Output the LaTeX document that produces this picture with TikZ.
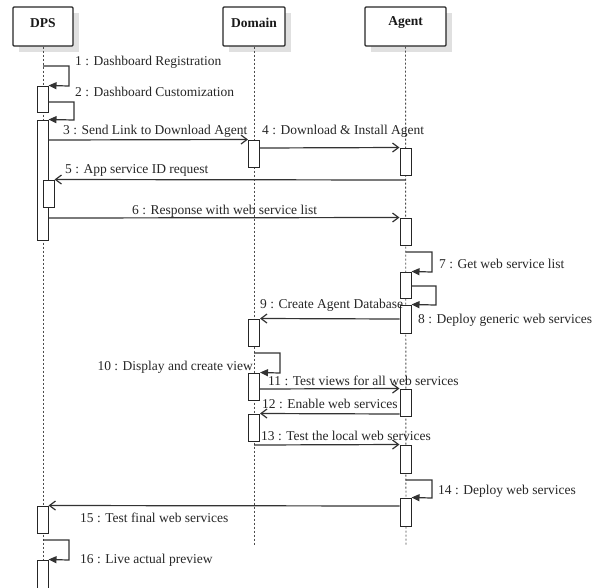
\documentclass[tikz,border=0pt]{standalone}
\usepackage{fontspec}
\setmainfont{Liberation Serif}
\usetikzlibrary{arrows.meta}
\begin{document}
\begin{tikzpicture}[x=1pt,y=-1pt,
  lbl/.style={font=\fontsize{13.5}{15}\selectfont, inner sep=0pt, anchor=base west, text=black!85},
  hlbl/.style={font=\fontsize{13.5}{15}\selectfont\bfseries, inner sep=0pt, text=black!90},
  act/.style={draw=black!85, fill=white, line width=1pt, minimum width=11pt, inner sep=0pt, rectangle},
  msg/.style={draw=black!80, line width=1.2pt, -{Straight Barb[length=6pt,width=9pt]}},
  selfmsg/.style={draw=black!80, line width=1.2pt, -{Triangle[length=8pt,width=7pt]}},
  life/.style={draw=black!70, line width=0.9pt, dash pattern=on 2pt off 2pt},
  head/.style={draw=black!85, line width=1.2pt, fill=white, rounded corners=1pt, inner sep=0pt, minimum height=39pt},
  shadowbox/.style={fill=black!12},
  ]
\useasboundingbox (0,0) rectangle (599,587);
\newcommand\actbox[4]{\node[act, minimum height={(#4)*1pt-(#3)*1pt}] (#1) at (#2,{(#3+#4)/2}) {};}

% headers
\fill[shadowbox] (19,13) rectangle (79,52);
\fill[shadowbox] (229,13) rectangle (291,52);
\fill[shadowbox] (371,13) rectangle (452,52);
\node[head, minimum width=60pt] (dps) at (43,26.5) {};
\node[head, minimum width=62pt] (dom) at (254,26.5) {};
\node[head, minimum width=81pt] (agt) at (405.5,26.5) {};
\node[hlbl] (dpst) at (43,23) {DPS};
\node[hlbl] (domt) at (254,23) {Domain};
\node[hlbl] (agtt) at (405.5,23) {Agent};

% lifelines
\coordinate (dpsend) at (43,560);
\coordinate (domend) at (254,546);
\coordinate (agtend) at (406,546);
\draw[life] (dps.south) -- (dpsend);
\draw[life] (dom.south) -- (domend);
\draw[life] (agt.south) -- (agtend);

% activations
\actbox{a1}{42.5}{86}{112}
\actbox{a2}{42.5}{120}{240}
\actbox{a3}{48.5}{180}{207}
\actbox{a4}{42.5}{506}{533}
\actbox{a5}{42.5}{560}{592}
\actbox{b1}{254}{140}{167}
\actbox{b2}{254}{319}{346}
\actbox{b3}{254}{373}{400}
\actbox{b4}{254}{414}{441}
\actbox{c1}{405.5}{148}{175}
\actbox{c2}{405.5}{218}{245}
\actbox{c3}{405.5}{272}{298}
\actbox{c4}{405.5}{305}{333}
\actbox{c5}{405.5}{389}{416}
\actbox{c6}{405.5}{445}{473}
\actbox{c7}{405.5}{498}{526}

% messages
\draw[selfmsg] (dps.south |- 0,66) -- (69,66) -- (69,86) -- (a1.north east);
\draw[selfmsg] (a1.east |- 0,102) -- (74,102) -- (74,120) -- (a2.north east);
\draw[msg] (a2.east |- 0,140) -- (b1.north west);
\draw[msg] (b1.east |- 0,148) -- (c1.north west);
\draw[msg] (agt.south |- 0,180) -- (a3.north east);
\draw[msg] (a2.east |- 0,218) -- (c2.north west);
\draw[selfmsg] (agt.south |- 0,252) -- (432,252) -- (432,272) -- (c3.north east);
\draw[selfmsg] (c3.east |- 0,286) -- (436,286) -- (436,305) -- (c4.north east);
\draw[msg] (c4.west |- 0,319) -- (b2.north east);
\draw[selfmsg] (dom.south |- 0,353) -- (280,353) -- (280,373) -- (b3.north east);
\draw[msg] (b3.east |- 0,389) -- (c5.north west);
\draw[msg] (c5.west |- 0,414) -- (b4.north east);
\draw[msg] (dom.south |- 0,445) -- (c6.north west);
\draw[selfmsg] (agt.south |- 0,480) -- (432,480) -- (432,498) -- (c7.north east);
\draw[msg] (c7.west |- 0,506) -- (a4.north east);
\draw[selfmsg] (dps.south |- 0,540) -- (69,540) -- (69,560) -- (a5.north east);

% labels
\node[lbl] (l1) at (75,65) {1 : Dashboard Registration};
\node[lbl] (l2) at (75,96) {2 : Dashboard Customization};
\node[lbl] (l3) at (63,134) {3 : Send Link to Download Agent};
\node[lbl] (l4) at (262,134) {4 : Download \& Install Agent};
\node[lbl] (l5) at (65,173) {5 : App service ID request};
\node[lbl] (l6) at (132,214) {6 : Response with web service list};
\node[lbl] (l7) at (439,268) {7 : Get web service list};
\node[lbl] (l8) at (418,323) {8 : Deploy generic web services};
\node[lbl] (l9) at (260,308) {9 : Create Agent Database};
\node[lbl, anchor=base east] (l10) at (253,370) {10 : Display and create view};
\node[lbl] (l11) at (268,385) {11 : Test views for all web services};
\node[lbl] (l12) at (262,408) {12 : Enable web services};
\node[lbl] (l13) at (261,440) {13 : Test the local web services};
\node[lbl] (l14) at (438,494) {14 : Deploy web services};
\node[lbl] (l15) at (80,522) {15 : Test final web services};
\node[lbl] (l16) at (80,563) {16 : Live actual preview};
\end{tikzpicture}
\end{document}
